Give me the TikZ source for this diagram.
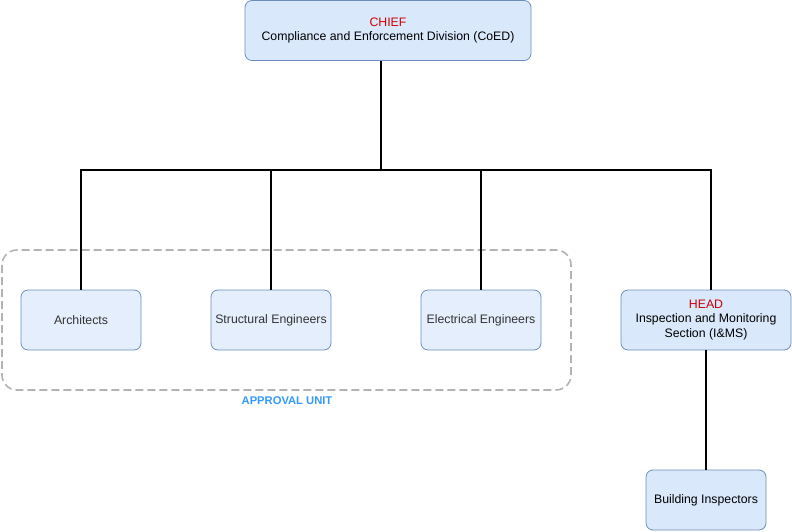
\documentclass[tikz,border=0pt]{standalone}
\usepackage{fontspec}
\setmainfont{Liberation Sans}
\definecolor{boxfill}{HTML}{DAE8FC}
\definecolor{boxlight}{HTML}{E4EEFC}
\definecolor{boxline}{HTML}{6C8EBF}
\definecolor{redtxt}{HTML}{CC0000}
\definecolor{greytxt}{HTML}{333333}
\definecolor{dashgrey}{HTML}{B3B3B3}
\definecolor{bluetxt}{HTML}{3399FF}
\tikzset{
  orgbox/.style={draw=boxline, fill=boxfill, rounded corners=7pt, line width=0.8pt,
    minimum width=#1, minimum height=60pt, inner sep=0pt, align=center,
    font=\fontsize{12.3}{14.5}\selectfont},
  orgbox/.default=120pt,
  unitbox/.style={orgbox, fill=boxlight, text=greytxt},
  link/.style={line width=1.6pt, draw=black},
}
\begin{document}
\begin{tikzpicture}[x=1pt,y=-1pt]
\useasboundingbox (0,0) rectangle (792,532);
% approval unit container
\draw[dashgrey, line width=1.6pt, dash pattern=on 8pt off 4pt, rounded corners=15pt]
  (2,250) rectangle (571,390);
\node[font=\fontsize{11.2}{13}\selectfont\bfseries, text=bluetxt] (unitlbl) at (287,401) {APPROVAL UNIT};
% boxes
\node[orgbox=286pt] (chief) at (388,30.5) {\textcolor{redtxt}{CHIEF}\\Compliance and Enforcement Division (CoED)};
\node[unitbox] (arch) at (81,320) {Architects};
\node[unitbox] (struct) at (271,320) {Structural Engineers};
\node[unitbox] (elec) at (481,320) {Electrical Engineers};
\node[orgbox=170pt] (head) at (706,320) {\textcolor{redtxt}{HEAD}\\Inspection and Monitoring\\Section (I\&MS)};
\node[orgbox] (insp) at (706,500) {Building Inspectors};
% connectors
\coordinate (junc) at (381,170);
\draw[link] (chief.south -| junc) -- (junc);
\draw[link] (arch.north) |- (junc);
\draw[link] (struct.north) -- (struct.north |- junc);
\draw[link] (elec.north) -- (elec.north |- junc);
\draw[link] ([xshift=5pt]head.north) |- (junc);
\draw[link] (head.south) -- (insp.north);
\end{tikzpicture}
\end{document}
